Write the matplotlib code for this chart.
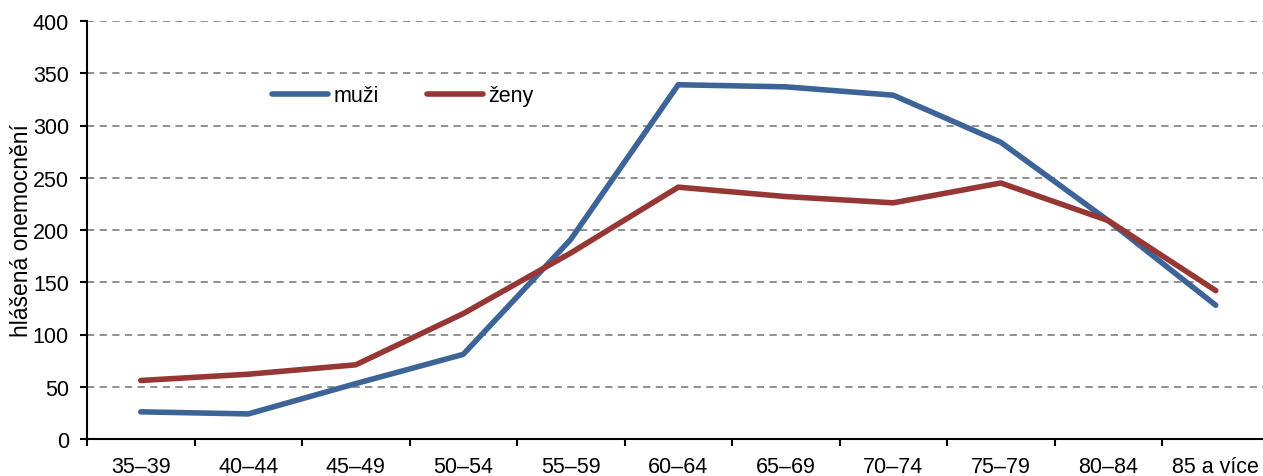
import matplotlib
matplotlib.use("Agg")
import matplotlib.pyplot as plt
import numpy as np

categories = ["35–39", "40–44", "45–49", "50–54", "55–59", "60–64",
              "65–69", "70–74", "75–79", "80–84", "85 a více"]
muzi = [26, 24, 53, 81, 191, 339, 337, 329, 284, 209, 128]
zeny = [56, 62, 71, 120, 178, 241, 232, 226, 245, 209, 142]
y_ticks = [0, 50, 100, 150, 200, 250, 300, 350, 400]

blue = "#3C6499"
red = "#963735"

plt.rcParams['font.family'] = ['Liberation Sans', 'DejaVu Sans']
FS = 15.5

W, H = 1263, 477
fig = plt.figure(figsize=(W / 100, H / 100), dpi=100)
left_px, right_px, bot_px, top_px = 87, 1269.5, 440, 22
ax = fig.add_axes([left_px / W, (H - bot_px) / H,
                   (right_px - left_px) / W, (bot_px - top_px) / H])

x = np.arange(len(categories))
ax.plot(x, muzi, color=blue, lw=4.0, solid_capstyle='round', label="muži", zorder=3)
ax.plot(x, zeny, color=red, lw=4.0, solid_capstyle='round', label="ženy", zorder=3)

ax.set_xlim(-0.5, len(categories) - 0.5)
ax.set_ylim(0, 400)
ax.set_yticks(y_ticks)
ax.set_yticklabels([str(v) for v in y_ticks], fontsize=FS)
ax.set_xticks(x)
ax.set_xticklabels(categories, fontsize=FS)
ax.tick_params(axis='x', length=0, pad=12)
ax.set_xticks(np.arange(len(categories) + 1) - 0.5, minor=True)
ax.tick_params(axis='x', which='minor', length=5, width=1.5, direction='out')
ax.tick_params(axis='y', length=5, width=1.5, direction='out', pad=8)

ax.grid(axis='y', linestyle=(0, (4, 3)), color='#888888', lw=1.3, zorder=0)
for s in ['top', 'right']:
    ax.spines[s].set_visible(False)
for s in ['left', 'bottom']:
    ax.spines[s].set_linewidth(1.5)
ax.spines['left'].set_zorder(4)

ax.set_ylabel("hlášená onemocnění", fontsize=16.5, labelpad=0)

leg = ax.legend(loc='upper left', bbox_to_anchor=(0.1565, 0.846), ncol=2,
                frameon=False, fontsize=FS, handlelength=2.6,
                handletextpad=0.25, columnspacing=2.25, borderaxespad=0,
                borderpad=0)

fig.savefig("out.png", dpi=100)
